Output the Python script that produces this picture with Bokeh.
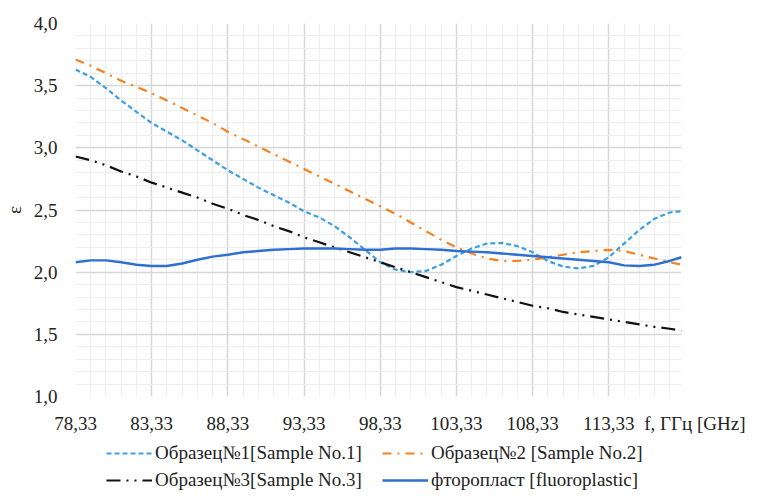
from bokeh.plotting import figure
from bokeh.layouts import column
from bokeh.models import FixedTicker, Legend, LegendItem
from bokeh.embed import file_html
from bokeh.resources import INLINE

freq = [78.33, 79.33, 80.33, 81.33, 82.33, 83.33, 84.33, 85.33, 86.33, 87.33,
        88.33, 89.33, 90.33, 91.33, 92.33, 93.33, 94.33, 95.33, 96.33, 97.33,
        98.33, 99.33, 100.33, 101.33, 102.33, 103.33, 104.33, 105.33, 106.33, 107.33,
        108.33, 109.33, 110.33, 111.33, 112.33, 113.33, 114.33, 115.33, 116.33, 117.33,
        118.1]

sample1 = [3.63, 3.57, 3.48, 3.38, 3.29, 3.20, 3.13, 3.06, 2.98, 2.90,
           2.82, 2.75, 2.68, 2.62, 2.56, 2.49, 2.44, 2.37, 2.28, 2.18,
           2.08, 2.02, 2.00, 2.01, 2.06, 2.13, 2.19, 2.23, 2.235, 2.21,
           2.16, 2.09, 2.045, 2.03, 2.05, 2.12, 2.23, 2.34, 2.43, 2.48,
           2.49]

sample2 = [3.71, 3.66, 3.60, 3.54, 3.49, 3.44, 3.38, 3.32, 3.26, 3.20,
           3.13, 3.07, 3.01, 2.95, 2.89, 2.83, 2.77, 2.71, 2.65, 2.59,
           2.53, 2.47, 2.40, 2.33, 2.26, 2.20, 2.15, 2.11, 2.09, 2.09,
           2.10, 2.12, 2.14, 2.16, 2.17, 2.18, 2.17, 2.14, 2.11, 2.08,
           2.06]

sample3 = [2.93, 2.90, 2.86, 2.81, 2.77, 2.72, 2.68, 2.64, 2.60, 2.55,
           2.51, 2.46, 2.42, 2.37, 2.33, 2.28, 2.24, 2.20, 2.16, 2.12,
           2.08, 2.04, 2.00, 1.96, 1.92, 1.88, 1.85, 1.82, 1.79, 1.76,
           1.73, 1.71, 1.68, 1.66, 1.64, 1.62, 1.60, 1.58, 1.56, 1.545,
           1.53]

fluoro = [2.08, 2.095, 2.095, 2.08, 2.06, 2.05, 2.05, 2.07, 2.10, 2.125,
          2.14, 2.16, 2.17, 2.18, 2.185, 2.19, 2.19, 2.19, 2.185, 2.18,
          2.18, 2.19, 2.19, 2.185, 2.18, 2.17, 2.165, 2.16, 2.15, 2.14,
          2.13, 2.12, 2.11, 2.10, 2.09, 2.08, 2.055, 2.05, 2.06, 2.09,
          2.12]

x_ticks = [78.33, 83.33, 88.33, 93.33, 98.33, 103.33, 108.33, 113.33]
x_tick_labels = ["78,33", "83,33", "88,33", "93,33", "98,33", "103,33", "108,33", "113,33"]
x_minor = [79.33, 80.33, 81.33, 82.33, 84.33, 85.33, 86.33, 87.33, 89.33, 90.33,
           91.33, 92.33, 94.33, 95.33, 96.33, 97.33, 99.33, 100.33, 101.33, 102.33,
           104.33, 105.33, 106.33, 107.33, 109.33, 110.33, 111.33, 112.33, 114.33,
           115.33, 116.33, 117.33]
y_ticks = [1.0, 1.5, 2.0, 2.5, 3.0, 3.5, 4.0]
y_tick_labels = ["1,0", "1,5", "2,0", "2,5", "3,0", "3,5", "4,0"]
y_minor = [1.1, 1.2, 1.3, 1.4, 1.6, 1.7, 1.8, 1.9, 2.1, 2.2, 2.3, 2.4,
           2.6, 2.7, 2.8, 2.9, 3.1, 3.2, 3.3, 3.4, 3.6, 3.7, 3.8, 3.9]

series_labels = ["Образец№1[Sample No.1]", "Образец№2 [Sample No.2]",
                 "Образец№3[Sample No.3]", "фторопласт [fluoroplastic]"]
x_title = "f, ГГц [GHz]"
y_title = "ε"

FONT = "Liberation Serif"
X_END = 118.1

SERIES = [sample1, sample2, sample3, fluoro]
STYLES = [dict(line_color="#3D9FE3", line_width=2.2, line_dash="5 3"),
          dict(line_color="#F58220", line_width=2.2, line_dash="9 6 2 6"),
          dict(line_color="#111111", line_width=2.2, line_dash="14 6 2 6 2 6"),
          dict(line_color="#2F6FCF", line_width=2.4)]

p = figure(width=745, height=438, output_backend="svg", toolbar_location=None,
           x_range=(78.33, X_END), y_range=(1.0, 4.0),
           min_border_left=66, min_border_right=64, min_border_top=23,
           min_border_bottom=42)
p.outline_line_color = None
p.background_fill_color = "white"

# axis title drawn as the label of a tick at the right end of the axis
axis_ticks = x_ticks + [X_END]
axis_labels = x_tick_labels + ["\u00a0" * 10 + x_title]
p.xaxis.ticker = FixedTicker(ticks=axis_ticks, minor_ticks=x_minor)
p.yaxis.ticker = FixedTicker(ticks=y_ticks, minor_ticks=y_minor)
p.xaxis.major_label_overrides = dict(zip(axis_ticks, axis_labels))
p.yaxis.major_label_overrides = dict(zip(y_ticks, y_tick_labels))
p.xgrid.ticker = FixedTicker(ticks=x_ticks, minor_ticks=x_minor)
p.ygrid.ticker = FixedTicker(ticks=y_ticks, minor_ticks=y_minor)

for ax in (p.xaxis, p.yaxis):
    ax.axis_line_color = None
    ax.major_tick_line_color = None
    ax.minor_tick_line_color = None
    ax.major_tick_out = 0
    ax.minor_tick_out = 0
    ax.major_label_text_font = FONT
    ax.major_label_text_font_size = "19px"
    ax.major_label_text_color = "#222222"

p.xaxis.major_label_standoff = 16
p.yaxis.major_label_standoff = 18
p.yaxis.axis_label = y_title
p.yaxis.axis_label_text_font = FONT
p.yaxis.axis_label_text_font_size = "19px"
p.yaxis.axis_label_text_font_style = "normal"
p.yaxis.axis_label_text_color = "#222222"
p.yaxis.axis_label_standoff = 6

for g in (p.xgrid, p.ygrid):
    g.grid_line_color = "#D6D6D6"
    g.grid_line_width = 1.5
    g.minor_grid_line_color = "#EDEDED"
    g.minor_grid_line_width = 1

for ys, st in zip(SERIES, STYLES):
    p.line(freq, ys, **st)

# legend strip under the chart (its series lie outside its own view range,
# only their legend glyphs show)
lp = figure(width=745, height=53, output_backend="svg", toolbar_location=None,
            x_axis_type=None, y_axis_type=None, x_range=(0, 1), y_range=(0, 1),
            min_border=0)
lp.outline_line_color = None
lp.grid.visible = False
proxies = [lp.line(freq, ys, **st) for ys, st in zip(SERIES, STYLES)]


def make_legend(idx, loc):
    lg = Legend(items=[LegendItem(label=series_labels[i], renderers=[proxies[i]]) for i in idx],
                orientation="horizontal", location=loc)
    lg.label_text_font = FONT
    lg.label_text_font_size = "19px"
    lg.label_text_color = "#222222"
    lg.glyph_width = 46
    lg.glyph_height = 20
    lg.label_standoff = 3
    lg.spacing = 20
    lg.padding = 0
    lg.margin = 0
    lg.border_line_color = None
    lg.background_fill_alpha = 0
    return lg


lp.add_layout(make_legend([0, 1], (31, 27)), "center")
lp.add_layout(make_legend([2, 3], (31, 0)), "center")

open("out.html", "w").write(file_html(column(p, lp), INLINE))
